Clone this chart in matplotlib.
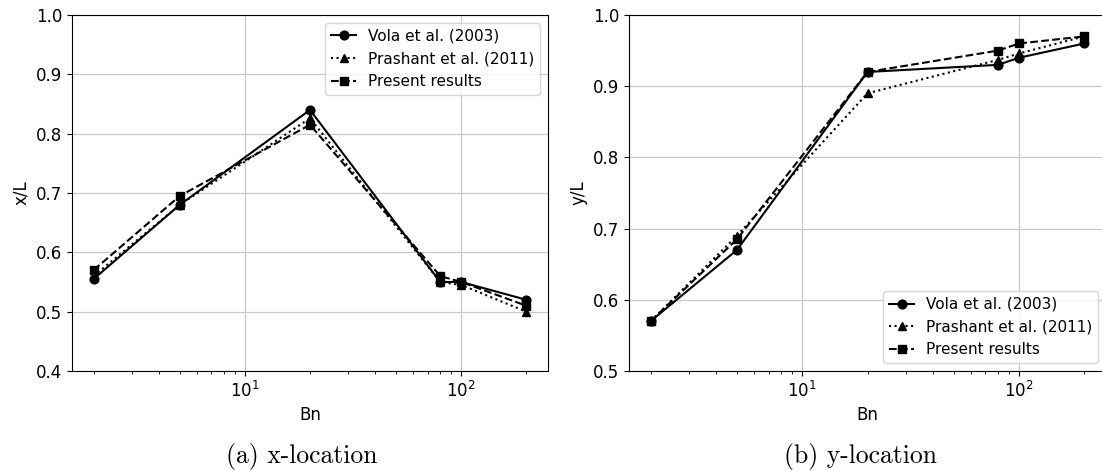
import matplotlib
matplotlib.use("Agg")
import matplotlib.pyplot as plt

# Bingham number values
bn = [2, 5, 20, 80, 100, 200]

# x-location of the vortex centre
x_vola = [0.555, 0.68, 0.84, 0.55, 0.55, 0.52]
x_prashant = [0.56, 0.68, 0.826, 0.55, 0.545, 0.50]
x_present = [0.57, 0.695, 0.815, 0.56, 0.55, 0.51]

# y-location of the vortex centre
y_vola = [0.57, 0.67, 0.92, 0.93, 0.94, 0.96]
y_prashant = [0.57, 0.69, 0.89, 0.937, 0.946, 0.97]
y_present = [0.57, 0.685, 0.92, 0.95, 0.96, 0.97]

labels = ["Vola et al. (2003)", "Prashant et al. (2011)", "Present results"]
styles = [("-", "o"), (":", "^"), ("--", "s")]

W, H = 1102, 470
fig = plt.figure(figsize=(W / 100, H / 100), dpi=100)


def box(x0, x1, y0=15, y1=371):
    return [x0 / W, (H - y1) / H, (x1 - x0) / W, (y1 - y0) / H]


ax1 = fig.add_axes(box(72, 548))
ax2 = fig.add_axes(box(629, 1106))

panels = [
    (ax1, [x_vola, x_prashant, x_present], "x/L", (0.4, 1.0), "upper right",
     "(a) x-location", 301.5),
    (ax2, [y_vola, y_prashant, y_present], "y/L", (0.5, 1.0), "lower right",
     "(b) y-location", 860),
]

for ax, series, ylab, ylim, loc, caption, cx in panels:
    for vals, lab, (ls, mk) in zip(series, labels, styles):
        ax.plot(bn, vals, color="black", linestyle=ls, marker=mk,
                markersize=6.3, linewidth=1.5, label=lab)
    ax.set_xscale("log")
    ax.set_ylim(*ylim)
    ax.grid(True, which="major", color="#c8c8c8", linewidth=0.9)
    ax.set_axisbelow(True)
    ax.tick_params(labelsize=12)
    ax.set_xlabel("Bn", fontsize=12)
    ax.set_ylabel(ylab, fontsize=12)
    ax.legend(loc=loc, fontsize=11, handlelength=1.6)
    fig.text(cx / W, (H - 456) / H, caption, family="cmr10", fontsize=18.5,
             ha="center", va="center")

fig.savefig("out.png", dpi=100)
